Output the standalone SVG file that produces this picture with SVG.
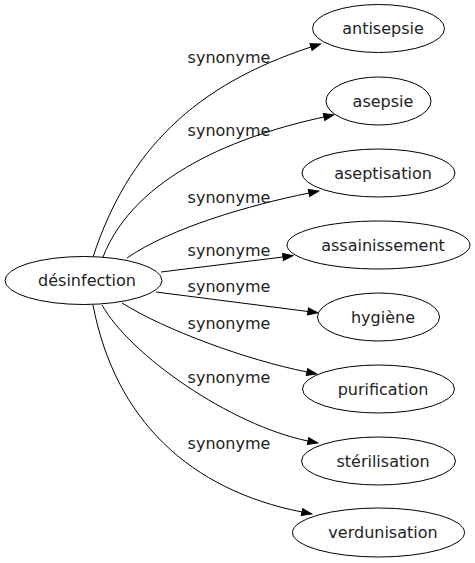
<svg xmlns="http://www.w3.org/2000/svg" width="475" height="563" viewBox="0 0 475 563">
<style>
  .node ellipse { fill: #ffffff; stroke: #000000; stroke-width: 1; }
  .node text { font-family: "DejaVu Sans", sans-serif; font-size: 16px; text-anchor: middle; fill: #222222; }
  .edges path { fill: none; stroke: #000000; stroke-width: 1; }
  .edges text { font-family: "DejaVu Sans", sans-serif; font-size: 16px; text-anchor: middle; fill: #222222; }
</style>
<defs>
  <marker id="arrow" markerUnits="userSpaceOnUse" markerWidth="11" markerHeight="8" refX="0" refY="0" viewBox="0 -4 11 8" orient="auto" overflow="visible">
    <path d="M0,-3.5 L10,0 L0,3.5 Z" fill="#000000" stroke="#000000" stroke-width="1"/>
  </marker>
</defs>
<rect width="475" height="563" fill="#ffffff"/>
<g id="edges" class="edges">
  <path d="M93,257 C128,150 195,85 311,47" marker-end="url(#arrow)"/>
  <text x="229" y="63">synonyme</text>
  <path d="M103,257 C135,175 240,135 324,117" marker-end="url(#arrow)"/>
  <text x="229" y="136">synonyme</text>
  <path d="M127,258 C170,228 250,205 309,193" marker-end="url(#arrow)"/>
  <text x="229" y="203">synonyme</text>
  <path d="M161,272 L283,257" marker-end="url(#arrow)"/>
  <text x="229" y="256">synonyme</text>
  <path d="M156,292 L308,311.5" marker-end="url(#arrow)"/>
  <text x="229" y="292">synonyme</text>
  <path d="M122,303 C165,330 247,360 307,372" marker-end="url(#arrow)"/>
  <text x="229" y="329">synonyme</text>
  <path d="M102,305 C130,355 230,425 308,441" marker-end="url(#arrow)"/>
  <text x="229" y="383">synonyme</text>
  <path d="M93,305 C115,420 190,490 302,512" marker-end="url(#arrow)"/>
  <text x="229" y="449">synonyme</text>
</g>
<g id="node-desinfection" class="node">
  <ellipse cx="83.5" cy="280.5" rx="78.5" ry="24"/>
  <text x="87" y="286">désinfection</text>
</g>
<g id="node-antisepsie" class="node">
  <ellipse cx="378.5" cy="28.5" rx="66" ry="24"/>
  <text x="383" y="34">antisepsie</text>
</g>
<g id="node-asepsie" class="node">
  <ellipse cx="378.5" cy="101" rx="52.5" ry="24"/>
  <text x="383" y="106.5">asepsie</text>
</g>
<g id="node-aseptisation" class="node">
  <ellipse cx="378.5" cy="173" rx="76.5" ry="24"/>
  <text x="383" y="178.5">aseptisation</text>
</g>
<g id="node-assainissement" class="node">
  <ellipse cx="378.5" cy="245" rx="91.5" ry="24"/>
  <text x="383" y="250.5">assainissement</text>
</g>
<g id="node-hygiene" class="node">
  <ellipse cx="378.5" cy="317" rx="61" ry="24"/>
  <text x="383" y="322.5">hygiène</text>
</g>
<g id="node-purification" class="node">
  <ellipse cx="378.5" cy="389" rx="76" ry="24"/>
  <text x="383" y="394.5">purification</text>
</g>
<g id="node-sterilisation" class="node">
  <ellipse cx="378.5" cy="461" rx="77" ry="24"/>
  <text x="383" y="466.5">stérilisation</text>
</g>
<g id="node-verdunisation" class="node">
  <ellipse cx="378.5" cy="532.5" rx="86" ry="24.5"/>
  <text x="383" y="538">verdunisation</text>
</g>
</svg>
